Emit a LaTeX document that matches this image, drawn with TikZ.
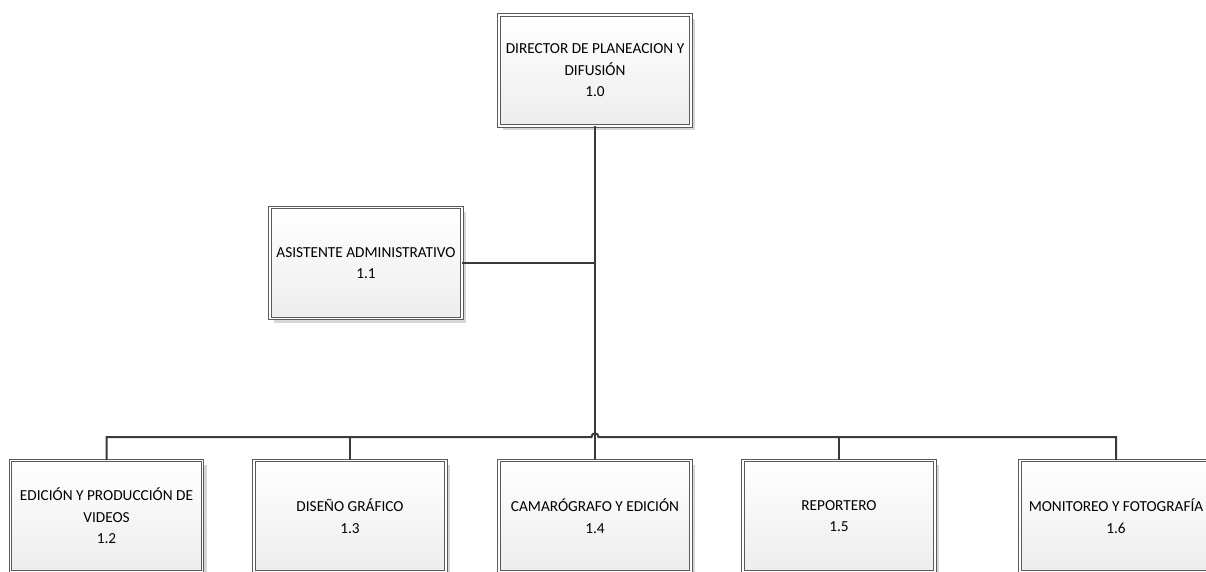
\documentclass[tikz,border=0pt]{standalone}
\usepackage{fontspec}
\setmainfont{Carlito}
\usetikzlibrary{shadows,calc}
\definecolor{linec}{HTML}{3A3A3A}
\definecolor{boxline}{HTML}{5A5A5A}
\definecolor{shadowc}{HTML}{D6D6D6}
\tikzset{
  orgbox/.style={draw=boxline, line width=0.8pt, double=white, double distance=1.6pt,
    top color=white, bottom color=black!7,
    minimum width=192pt, minimum height=111pt, inner sep=0pt, align=center,
    font=\fontsize{15.3}{21.5}\selectfont,
    drop shadow={shadow xshift=4pt, shadow yshift=-4pt, fill=shadowc, opacity=1}},
  conn/.style={draw=linec, line width=2pt}
}
\begin{document}
\begin{tikzpicture}[x=1pt,y=-1pt]
\useasboundingbox (0,0) rectangle (1206,571);
\clip (0,0) rectangle (1206,571);
\node[orgbox] (d) at (595,70.5) {DIRECTOR DE PLANEACION Y\\DIFUSIÓN\\1.0};
\node[orgbox] (a) at (366,263) {ASISTENTE ADMINISTRATIVO\\1.1};
\node[orgbox] (b2) at (106.5,516) {EDICIÓN Y PRODUCCIÓN DE\\VIDEOS\\1.2};
\node[orgbox] (b3) at (350,516) {DISEÑO GRÁFICO\\1.3};
\node[orgbox] (b4) at (595,516) {CAMARÓGRAFO Y EDICIÓN\\1.4};
\node[orgbox] (b5) at (839,516) {REPORTERO\\1.5};
\node[orgbox] (b6) at (1116,516) {MONITOREO Y FOTOGRAFÍA\\1.6};
\coordinate (busy) at (0,437);
\coordinate (hl) at ($(b4.north |- busy)+(-3.5,0)$);
\coordinate (hr) at ($(b4.north |- busy)+(3.5,0)$);
\draw[conn] (d.south) -- (b4.north);
\draw[conn] (a.east) -- (a.east -| d.south);
\draw[conn] (b2.north) -- (b2.north |- busy) -- (hl)
  .. controls ($(hl)+(0,-5)$) and ($(hr)+(0,-5)$) .. (hr) -- (b6.north |- busy) -- (b6.north);
\draw[conn] (b3.north) -- (b3.north |- busy);
\draw[conn] (b5.north) -- (b5.north |- busy);
\end{tikzpicture}
\end{document}
